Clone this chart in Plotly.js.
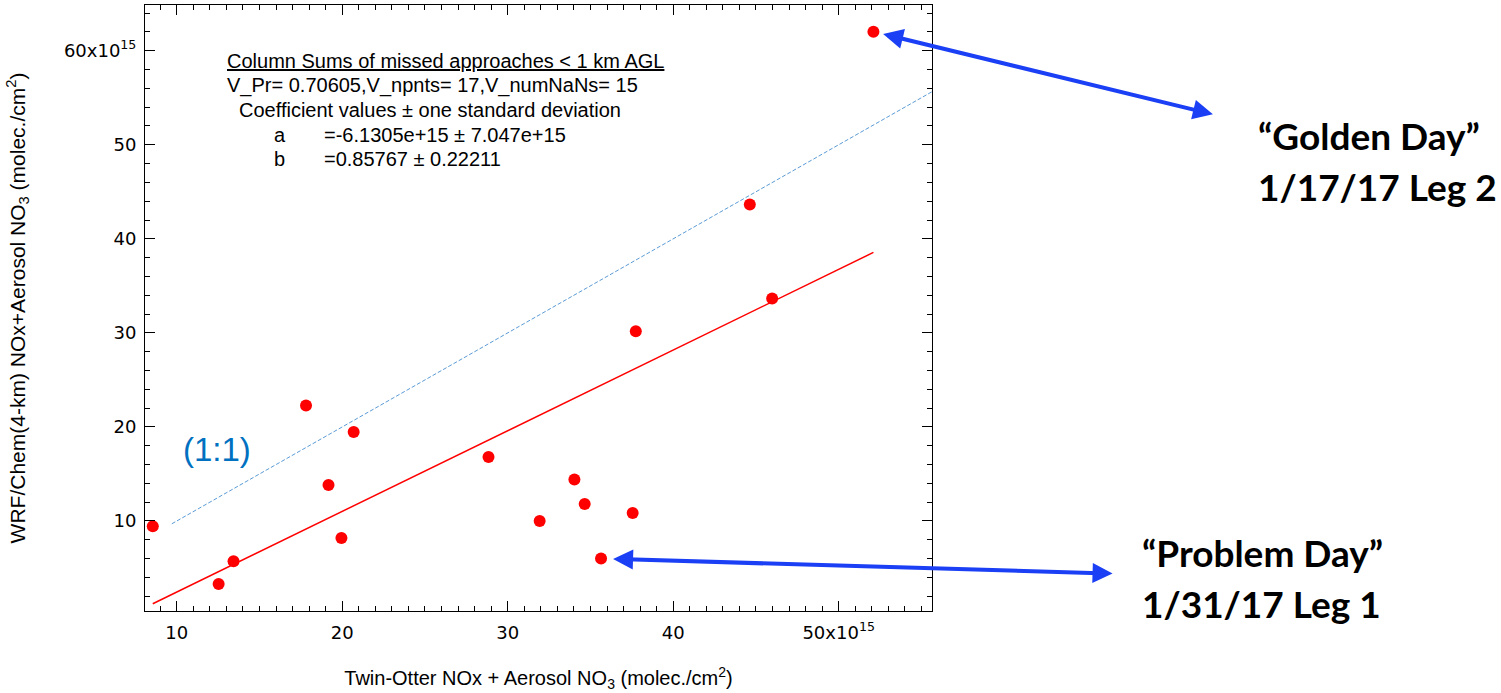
<!DOCTYPE html>
<html>
<head>
<meta charset="utf-8">
<script src="https://cdn.plot.ly/plotly-3.0.1.min.js"></script>
<style>
  html, body { margin: 0; padding: 0; background: #ffffff; }
  #chart { width: 1501px; height: 693px; }
</style>
</head>
<body>
<div id="chart"></div>
<script>
// ---- Data (units of 1e15 molec./cm^2) ----
const obsX   = [8.55, 12.53, 13.43, 19.17, 19.95, 28.84, 31.93, 34.03, 34.65, 35.64, 37.55, 17.81, 20.69, 37.74, 45.98, 44.63, 52.10];
const modelY = [9.44, 3.30, 5.71, 13.83, 8.19, 16.81, 10.00, 14.40, 11.81, 6.00, 10.85, 22.28, 19.47, 30.18, 33.66, 43.66, 62.02];
const fitA = -6.1305;   // intercept (1e15)
const fitB = 0.85767;   // slope
const oneToOneX = [9.7, 55.64];
const xRange = [8.08, 55.64];
const yRange = [0.43, 64.86];
const xTickVals = [10, 20, 30, 40, 50];
const xTickText = ['10', '20', '30', '40', '50x10<sup>15</sup>'];
const yTickVals = [10, 20, 30, 40, 50, 60];
const yTickText = ['10', '20', '30', '40', '50', '60x10<sup>15</sup>'];
const infoLines = [
  'Column Sums of missed approaches < 1 km AGL',
  'V_Pr= 0.70605,V_npnts= 17,V_numNaNs= 15',
  'Coefficient values \u00b1 one standard deviation'
];
const coefNames = ['a', 'b'];
const coefTexts = ['=-6.1305e+15 \u00b1 7.047e+15', '=0.85767 \u00b1 0.22211'];
const goldenIdx = 16;   // 1/17/17 Leg 2
const problemIdx = 9;   // 1/31/17 Leg 1

// ---- Layout geometry helpers (pixel -> paper) ----
const L = 145, R = 932, T = 5, B = 611;
const px = x => (x - L) / (R - L);
const py = y => (B - y) / (B - T);

const fitX = [Math.min(...obsX), Math.max(...obsX)];
const fitY = fitX.map(x => fitA + fitB * x);

const traces = [
  { x: oneToOneX, y: oneToOneX, mode: 'lines', type: 'scatter',
    line: { color: '#5b9bd5', width: 1, dash: '4px,2px' }, hoverinfo: 'skip' },
  { x: fitX, y: fitY, mode: 'lines', type: 'scatter',
    line: { color: '#ff0000', width: 1.5 }, hoverinfo: 'skip' },
  { x: obsX, y: modelY, mode: 'markers', type: 'scatter',
    marker: { color: '#ff0000', size: 12, line: { width: 0 } } }
];

const txtFont = { family: 'Liberation Sans, Arial, sans-serif', size: 20, color: '#000' };
const annotations = [];
const infoPos = [[225, 60.7], [225, 85.7], [237, 110]];
infoLines.forEach((t, i) => {
  annotations.push({
    xref: 'paper', yref: 'paper', x: px(infoPos[i][0]), y: py(infoPos[i][1]),
    xanchor: 'left', yanchor: 'middle', showarrow: false,
    text: i === 0 ? '<span style="text-decoration:underline">' + t + '</span>' : t,
    font: txtFont
  });
});
const coefY = [135, 159.3];
coefNames.forEach((n, i) => {
  annotations.push({ xref: 'paper', yref: 'paper', x: px(272), y: py(coefY[i]),
    xanchor: 'left', yanchor: 'middle', showarrow: false, text: n, font: txtFont });
  annotations.push({ xref: 'paper', yref: 'paper', x: px(322), y: py(coefY[i]),
    xanchor: 'left', yanchor: 'middle', showarrow: false, text: coefTexts[i], font: txtFont });
});
// (1:1) label
annotations.push({ xref: 'paper', yref: 'paper', x: px(216.5), y: py(449),
  xanchor: 'center', yanchor: 'middle', showarrow: false, text: '(1:1)',
  font: { family: 'Liberation Sans, Arial, sans-serif', size: 33, color: '#0070c0' } });

// arrows
const arrowColor = '#1a3ff5';
annotations.push({ x: obsX[goldenIdx], y: modelY[goldenIdx], xref: 'x', yref: 'y',
  axref: 'pixel', ayref: 'pixel', ax: 341, ay: 83, text: '', showarrow: true,
  arrowside: 'end+start', arrowhead: 2, startarrowhead: 2, arrowsize: 1, startarrowsize: 1,
  arrowwidth: 4, arrowcolor: arrowColor, standoff: 10, startstandoff: 0 });
annotations.push({ x: obsX[problemIdx], y: modelY[problemIdx], xref: 'x', yref: 'y',
  axref: 'pixel', ayref: 'pixel', ax: 513, ay: 15, text: '', showarrow: true,
  arrowside: 'end+start', arrowhead: 2, startarrowhead: 2, arrowsize: 1, startarrowsize: 1,
  arrowwidth: 4, arrowcolor: arrowColor, standoff: 12, startstandoff: 0 });

const bigFont = { family: 'Lato, Carlito, Calibri, sans-serif', size: 37, color: '#000', weight: 'bold' };
[['\u201cGolden Day\u201d', 1256, 135], ['1/17/17 Leg 2', 1256, 187],
 ['\u201cProblem Day\u201d', 1140, 552], ['1/31/17 Leg 1', 1140, 603]].forEach(a => {
  annotations.push({ xref: 'paper', yref: 'paper', x: px(a[1]), y: py(a[2]),
    xanchor: 'left', yanchor: 'middle', showarrow: false, text: '<b>' + a[0] + '</b>', font: bigFont });
});

const tickFont = { family: 'DejaVu Sans, Verdana, sans-serif', size: 18, color: '#000' };
const titleFont = { family: 'Liberation Sans, Arial, sans-serif', size: 20, color: '#000' };

const layout = {
  width: 1501, height: 693,
  margin: { l: L, r: 1501 - R, t: T, b: 693 - B },
  paper_bgcolor: '#fff', plot_bgcolor: '#fff',
  showlegend: false,
  xaxis: {
    range: xRange, tickmode: 'array', tickvals: xTickVals, ticktext: xTickText,
    ticks: 'inside', ticklen: 10, tickwidth: 1, tickcolor: '#000',
    minor: { tickmode: 'linear', tick0: 0, dtick: 1, ticks: 'inside', ticklen: 5, tickcolor: '#000', showgrid: false },
    showline: true, linecolor: '#000', linewidth: 1, mirror: 'allticks',
    showgrid: false, zeroline: false, tickfont: tickFont, ticklabelstandoff: 5,
    title: { text: 'Twin-Otter NOx + Aerosol NO<sub>3</sub> (molec./cm<sup>2</sup>)', font: titleFont, standoff: 29 }
  },
  yaxis: {
    range: yRange, tickmode: 'array', tickvals: yTickVals, ticktext: yTickText,
    ticks: 'inside', ticklen: 10, tickwidth: 1, tickcolor: '#000',
    minor: { tickmode: 'linear', tick0: 0, dtick: 2, ticks: 'inside', ticklen: 5, tickcolor: '#000', showgrid: false },
    showline: true, linecolor: '#000', linewidth: 1, mirror: 'allticks',
    showgrid: false, zeroline: false, tickfont: tickFont, ticklabelstandoff: 4,
    title: { text: 'WRF/Chem(4-km) NOx+Aerosol NO<sub>3</sub> (molec./cm<sup>2</sup>)', font: { family: 'Liberation Sans, Arial, sans-serif', size: 21, color: '#000' }, standoff: 32 }
  },
  annotations: annotations
};

Plotly.newPlot('chart', traces, layout, { displayModeBar: false, staticPlot: true });
</script>
</body>
</html>
